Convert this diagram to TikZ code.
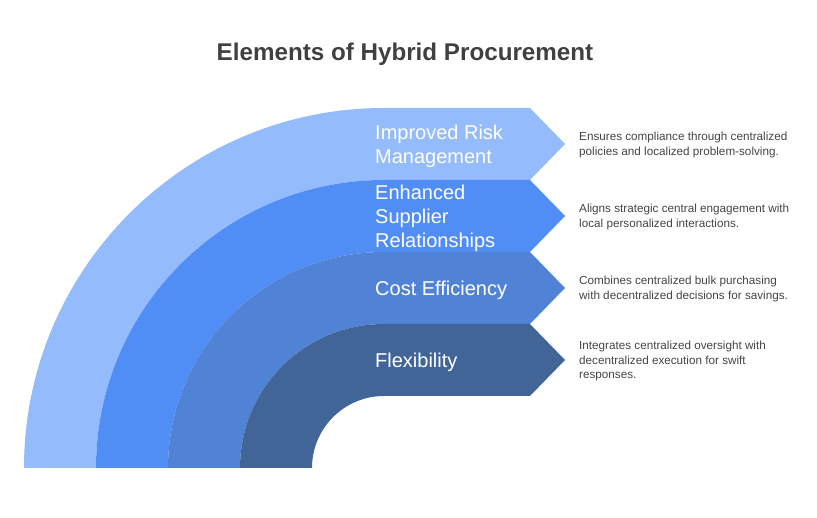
\documentclass[tikz,border=0pt]{standalone}
\usepackage{fontspec}
\setmainfont{Liberation Sans}
\definecolor{bandA}{HTML}{94BBFB}
\definecolor{bandB}{HTML}{508EF6}
\definecolor{bandC}{HTML}{5083D6}
\definecolor{bandD}{HTML}{426598}
\definecolor{titlegray}{HTML}{404040}
\definecolor{descgray}{HTML}{444444}
\begin{document}
\begin{tikzpicture}[x=1pt,y=1pt,
  band/.style={draw=none},
  lbl/.style={anchor=west,inner sep=0pt,align=left,text=white,font=\fontsize{20}{24}\selectfont},
  desc/.style={anchor=west,inner sep=0pt,align=left,text=descgray,font=\fontsize{11.7}{14.5}\selectfont},
  ttl/.style={anchor=base,inner sep=0pt,text=titlegray,font=\fontsize{24.2}{29}\selectfont\bfseries}]
\useasboundingbox (0,0) rectangle (817,517);
% bands: centre (384,49)
\foreach \R/\r/\c in {360/288/bandA,288/216/bandB,216/144/bandC,144/72/bandD}{
  \fill[band,\c] (384-\R,49) arc[start angle=180,end angle=90,radius=\R pt]
    -- (530,49+\R) -- (565,49+\R-36) -- (530,49+\r) -- (384,49+\r)
    arc[start angle=90,end angle=180,radius=\r pt] -- cycle;
}
\node[ttl] (title) at (405,456) {Elements of Hybrid Procurement};
\node[lbl] (l1) at (375,371) {Improved Risk\\Management};
\node[lbl] (l2) at (375,299) {Enhanced\\Supplier\\Relationships};
\node[lbl] (l3) at (375,227) {Cost Efficiency};
\node[lbl] (l4) at (375,155) {Flexibility};
\node[desc] (d1) at (579,372) {Ensures compliance through centralized\\policies and localized problem-solving.};
\node[desc] (d2) at (579,300) {Aligns strategic central engagement with\\local personalized interactions.};
\node[desc] (d3) at (579,228) {Combines centralized bulk purchasing\\with decentralized decisions for savings.};
\node[desc] (d4) at (579,156) {Integrates centralized oversight with\\decentralized execution for swift\\responses.};
\end{tikzpicture}
\end{document}
